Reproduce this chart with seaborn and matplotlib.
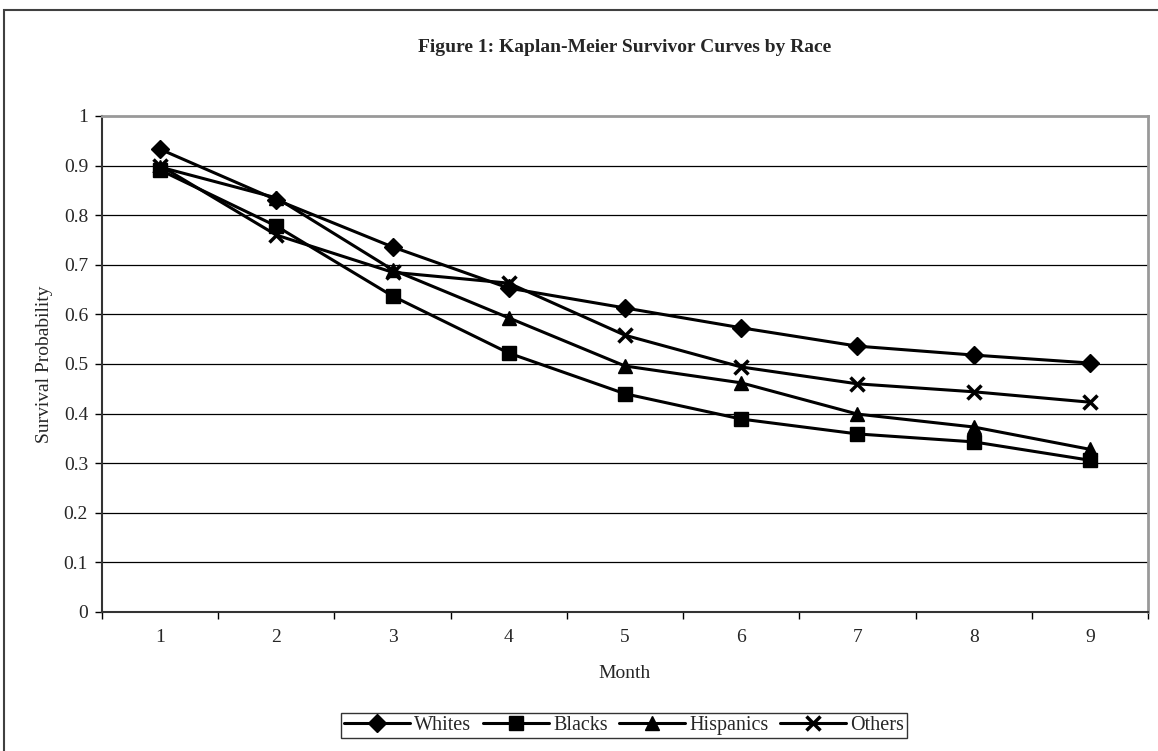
import matplotlib
matplotlib.use("Agg")
import matplotlib.pyplot as plt
import seaborn as sns
import pandas as pd
from matplotlib.patches import Rectangle
from matplotlib.ticker import FixedLocator, NullFormatter, FixedFormatter

months = [1, 2, 3, 4, 5, 6, 7, 8, 9]
whites = [0.933, 0.831, 0.736, 0.653, 0.613, 0.573, 0.536, 0.518, 0.502]
blacks = [0.891, 0.778, 0.637, 0.522, 0.440, 0.389, 0.359, 0.343, 0.306]
hispanics = [0.897, 0.835, 0.690, 0.593, 0.496, 0.462, 0.399, 0.373, 0.328]
others = [0.900, 0.760, 0.685, 0.663, 0.558, 0.494, 0.460, 0.444, 0.423]
series_names = ["Whites", "Blacks", "Hispanics", "Others"]
ytick_vals = [0, 0.1, 0.2, 0.3, 0.4, 0.5, 0.6, 0.7, 0.8, 0.9, 1.0]
ytick_labels = ["0", "0.1", "0.2", "0.3", "0.4", "0.5", "0.6", "0.7", "0.8", "0.9", "1"]

sns.set_theme(style="white")
plt.rcParams['font.family'] = ['Liberation Serif', 'DejaVu Serif']

df = pd.DataFrame({
    "Month": months * 4,
    "Survival": whites + blacks + hispanics + others,
    "Race": sum([[n] * len(months) for n in series_names], []),
})

fig = plt.figure(figsize=(11.58, 7.51), dpi=100)
ax = fig.add_axes([102 / 1158, 1 - 612 / 751, (1148 - 102) / 1158, (612 - 116) / 751])

# outer chart border (cropped on right/bottom)
fig.patches.append(Rectangle((4 / 1158, -0.2), 1.2, 1.2 - 10 / 751,
                             transform=fig.transFigure, fill=False,
                             edgecolor="#404040", linewidth=1.5, zorder=0))

styles = {
    "Whites": dict(marker="D", markersize=9, mew=1),
    "Blacks": dict(marker="s", markersize=9.5, mew=1),
    "Hispanics": dict(marker="^", markersize=10, mew=1),
    "Others": dict(marker="x", markersize=10, mew=2.5),
}
for name in series_names:
    sub = df[df["Race"] == name]
    sns.lineplot(data=sub, x="Month", y="Survival", ax=ax, color="black",
                 linewidth=2.2, label=name, markerfacecolor="black",
                 markeredgecolor="black", **styles[name])

ax.set_xlim(0.5, 9.5)
ax.set_ylim(0, 1)

ax.yaxis.set_major_locator(FixedLocator(ytick_vals))
ax.yaxis.set_major_formatter(FixedFormatter(ytick_labels))
ax.xaxis.set_major_locator(FixedLocator([m - 0.5 for m in months] + [months[-1] + 0.5]))
ax.xaxis.set_major_formatter(NullFormatter())
ax.xaxis.set_minor_locator(FixedLocator(months))
ax.xaxis.set_minor_formatter(FixedFormatter([str(m) for m in months]))

ax.tick_params(axis="x", which="major", direction="out", length=5, width=1,
               color="black", bottom=True)
ax.tick_params(axis="x", which="minor", length=0, labelsize=14, pad=12, bottom=True)
ax.tick_params(axis="y", which="major", direction="out", length=5, width=1,
               color="black", labelsize=14, pad=5, left=True)

ax.grid(False)
for v in ytick_vals[1:-1]:
    ax.axhline(v, color="black", linewidth=0.9, zorder=0)

ax.spines["left"].set_color("#333333")
ax.spines["bottom"].set_color("#333333")
ax.spines["left"].set_linewidth(1.5)
ax.spines["bottom"].set_linewidth(1.5)
ax.spines["top"].set_color("#999999")
ax.spines["right"].set_color("#999999")
ax.spines["top"].set_linewidth(2)
ax.spines["right"].set_linewidth(2)

ax.set_xlabel("Month", fontsize=14, labelpad=14)
ax.set_ylabel("Survival Probability", fontsize=14, labelpad=8)

fig.text(625 / 1158, 1 - 48 / 751, "Figure 1: Kaplan-Meier Survivor Curves by Race",
         ha="center", va="center", fontsize=14, fontweight="bold")

leg = ax.legend(loc="upper center", bbox_to_anchor=(624 / 1158, 1 - 713 / 751),
                bbox_transform=fig.transFigure, ncol=4, frameon=True,
                fancybox=False, edgecolor="black", fontsize=14.5,
                handlelength=3.3, handletextpad=0.2, columnspacing=0.55,
                borderpad=0.15, borderaxespad=0)
leg.get_frame().set_linewidth(1.0)

fig.savefig("out.png", dpi=100, facecolor="white")
